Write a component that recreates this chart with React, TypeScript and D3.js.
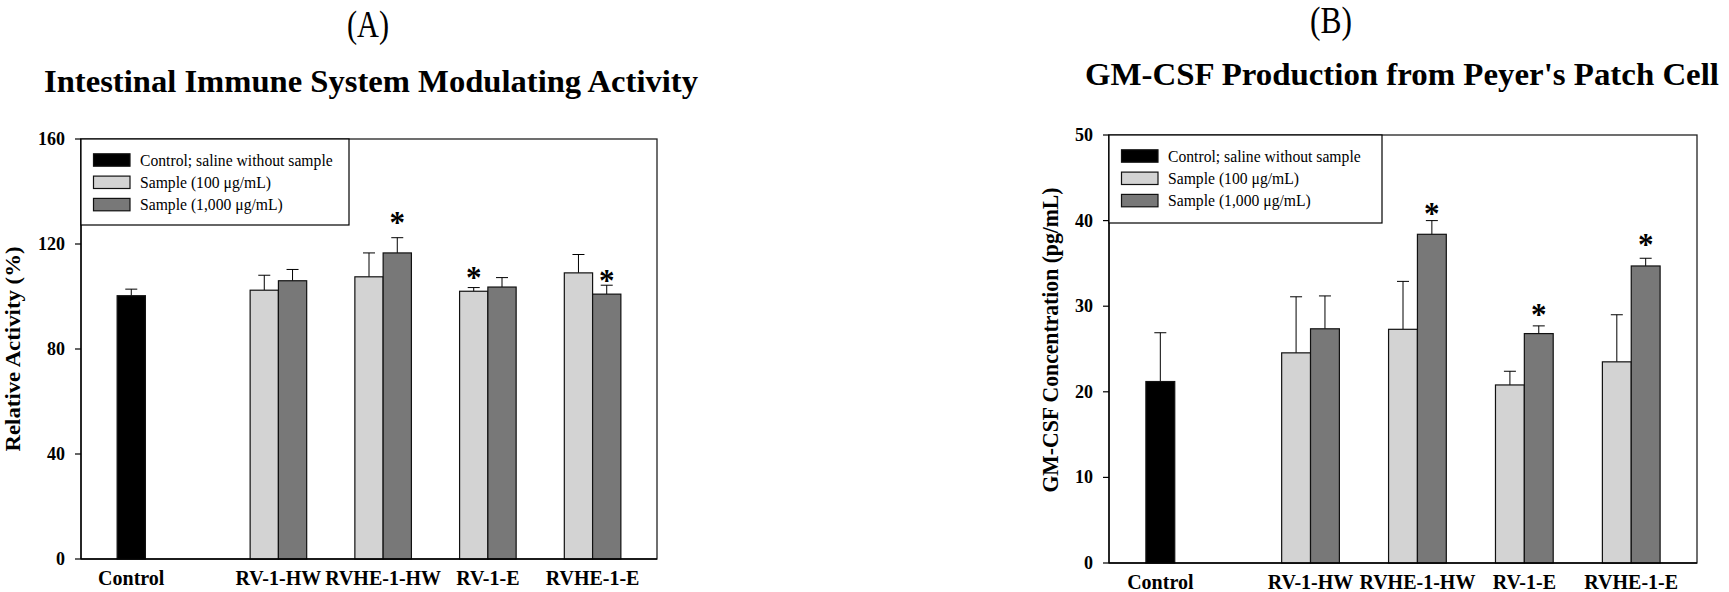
import React from 'react';
import * as d3 from 'd3';

// ---------- shared data ----------
const categories = ['Control', 'RV-1-HW', 'RVHE-1-HW', 'RV-1-E', 'RVHE-1-E'];
const seriesKeys = ['control', 's100', 's1000'];
const legendLabels = ['Control; saline without sample', 'Sample (100 \u03bcg/mL)', 'Sample (1,000 \u03bcg/mL)'];

// ---------- panel A : Intestinal Immune System Modulating Activity ----------
const aControlMean = [100.3, null, null, null, null];
const aControlSD = [2.5, null, null, null, null];
const aS100Mean = [null, 102.4, 107.5, 102.0, 109.0];
const aS100SD = [null, 5.7, 9.1, 1.4, 7.0];
const aS1000Mean = [null, 106.0, 116.6, 103.6, 100.9];
const aS1000SD = [null, 4.3, 5.8, 3.6, 3.4];
const aStarCats = ['RVHE-1-HW', 'RV-1-E', 'RVHE-1-E'];
const aStarSeries = ['s1000', 's100', 's1000'];
const aStarValues = [129.9, 109.1, 107.9];
const aTicks = [0, 40, 80, 120, 160];

// ---------- panel B : GM-CSF Production ----------
const bControlMean = [21.2, null, null, null, null];
const bControlSD = [5.7, null, null, null, null];
const bS100Mean = [null, 24.55, 27.3, 20.8, 23.5];
const bS100SD = [null, 6.55, 5.6, 1.6, 5.5];
const bS1000Mean = [null, 27.36, 38.4, 26.8, 34.7];
const bS1000SD = [null, 3.84, 1.6, 0.9, 0.9];
const bStarCats = ['RVHE-1-HW', 'RV-1-E', 'RVHE-1-E'];
const bStarSeries = ['s1000', 's1000', 's1000'];
const bStarValues = [41.3, 29.6, 37.7];
const bTicks = [0, 10, 20, 30, 40, 50];

const colors: Record<string, string> = { control: '#000000', s100: '#d3d3d3', s1000: '#787878' };
const SERIF = '"Liberation Serif", "Times New Roman", serif';

type PanelCfg = {
  letter: string; title: string; yLabel: string;
  means: (number | null)[][]; sds: (number | null)[][];
  starCats: string[]; starSeries: string[]; starValues: number[];
  ticks: number[]; yMax: number;
  left: number; top: number; width: number; height: number;
  titleX: number; titleY: number; titleLen: number;
  letterX: number; letterY: number; letterLen: number;
  yLabelX: number; yLabelY: number; yLabelLen: number; yLabelFont: number;
  legendW: number; legendH: number; catOffset: number;
};

function Panel({ c }: { c: PanelCfg }) {
  const x0 = d3.scaleBand<string>().domain(categories).range([0, c.width]).paddingInner(0).paddingOuter(0.25);
  const x1 = d3.scaleBand<string>().domain(seriesKeys).range([0, x0.bandwidth()]).paddingInner(0).paddingOuter(0.352);
  const y = d3.scaleLinear().domain([0, c.yMax]).range([c.height, 0]);
  const bw = x1.bandwidth();

  const bars: any[] = [];
  categories.forEach((cat, ci) => {
    seriesKeys.forEach((s, si) => {
      const m = c.means[si][ci];
      if (m == null) return;
      const sd = c.sds[si][ci] as number;
      const cx = (x0(cat) as number) + (x1(s) as number) + bw / 2;
      bars.push({ cat, s, m, sd, cx });
    });
  });
  const labelPos = categories.map((cat) => {
    const bs = bars.filter((b) => b.cat === cat);
    return d3.mean(bs, (b) => b.cx) as number;
  });

  return (
    <g>
      <text x={c.letterX} y={c.letterY} textAnchor="middle" fontFamily={SERIF} fontSize={38}
        textLength={c.letterLen} lengthAdjust="spacingAndGlyphs">{c.letter}</text>
      <text x={c.titleX} y={c.titleY} textAnchor="middle" fontFamily={SERIF} fontSize={32.5} fontWeight="bold"
        textLength={c.titleLen} lengthAdjust="spacingAndGlyphs">{c.title}</text>
      <text transform={`translate(${c.yLabelX},${c.yLabelY}) rotate(-90)`} textAnchor="middle" fontFamily={SERIF}
        fontSize={c.yLabelFont} fontWeight="bold" textLength={c.yLabelLen} lengthAdjust="spacingAndGlyphs">{c.yLabel}</text>
      <g transform={`translate(${c.left},${c.top})`}>
        <rect x={0} y={0} width={c.width} height={c.height} fill="#fff" stroke="#222" strokeWidth={1.3} />
        {bars.map((b, i) => (
          <g key={i}>
            <line x1={b.cx} x2={b.cx} y1={y(b.m)} y2={y(b.m + b.sd)} stroke="#000" strokeWidth={1} />
            <line x1={b.cx - 6} x2={b.cx + 6} y1={y(b.m + b.sd)} y2={y(b.m + b.sd)} stroke="#000" strokeWidth={1} />
            <rect x={b.cx - bw / 2} y={y(b.m)} width={bw} height={c.height - y(b.m)} fill={colors[b.s]}
              stroke="#111" strokeWidth={1.2} />
          </g>
        ))}
        {c.starCats.map((cat, i) => {
          const cx = (x0(cat) as number) + (x1(c.starSeries[i]) as number) + bw / 2;
          return (
            <text key={i} x={cx} y={y(c.starValues[i]) + 15} textAnchor="middle" fontFamily={SERIF}
              fontSize={31} fontWeight="bold">*</text>
          );
        })}
        <line x1={0} x2={0} y1={0} y2={c.height} stroke="#000" strokeWidth={1.3} />
        <line x1={0} x2={c.width} y1={c.height} y2={c.height} stroke="#000" strokeWidth={1.3} />
        {c.ticks.map((t) => (
          <g key={t}>
            <line x1={-6} x2={0} y1={y(t)} y2={y(t)} stroke="#000" strokeWidth={1.2} />
            <text x={-16} y={y(t) + 6} textAnchor="end" fontFamily={SERIF} fontSize={18} fontWeight="bold">{t}</text>
          </g>
        ))}
        {categories.map((cat, i) => (
          <text key={cat} x={labelPos[i]} y={c.height + c.catOffset} textAnchor="middle" fontFamily={SERIF}
            fontSize={20} fontWeight="bold">{cat}</text>
        ))}
        <rect x={0} y={0} width={c.legendW} height={c.legendH} fill="#fff" stroke="#000" strokeWidth={1.2} />
        {seriesKeys.map((s, i) => (
          <g key={s} transform={`translate(0,${21 + i * 22.3})`}>
            <rect x={12.5} y={-6.2} width={36.5} height={12.4} fill={colors[s]} stroke="#111" strokeWidth={1.2} />
            <text x={59} y={5.5} fontFamily={SERIF} fontSize={16.5}
              transform="translate(59,0) scale(0.95,1) translate(-59,0)">{legendLabels[i]}</text>
          </g>
        ))}
      </g>
    </g>
  );
}

const panelA: PanelCfg = {
  letter: '(A)', title: 'Intestinal Immune System Modulating Activity', yLabel: 'Relative Activity (%)',
  means: [aControlMean, aS100Mean, aS1000Mean], sds: [aControlSD, aS100SD, aS1000SD],
  starCats: aStarCats, starSeries: aStarSeries, starValues: aStarValues, ticks: aTicks, yMax: 160,
  left: 81, top: 139, width: 576, height: 420,
  titleX: 371, titleY: 92, titleLen: 654, letterX: 368, letterY: 37, letterLen: 42,
  yLabelX: 19.5, yLabelY: 349, yLabelLen: 205, yLabelFont: 22, legendW: 268, legendH: 86, catOffset: 26,
};

const panelB: PanelCfg = {
  letter: '(B)', title: "GM-CSF Production from Peyer's Patch Cell", yLabel: 'GM-CSF Concentration (pg/mL)',
  means: [bControlMean, bS100Mean, bS1000Mean], sds: [bControlSD, bS100SD, bS1000SD],
  starCats: bStarCats, starSeries: bStarSeries, starValues: bStarValues, ticks: bTicks, yMax: 50,
  left: 1109, top: 135, width: 588, height: 428,
  titleX: 1402, titleY: 85, titleLen: 634, letterX: 1331, letterY: 33, letterLen: 42,
  yLabelX: 1058, yLabelY: 340, yLabelLen: 305, yLabelFont: 23, legendW: 273, legendH: 88, catOffset: 26,
};

export default function App() {
  return (
    <div style={{ position: 'absolute', left: 0, top: 0 }}>
      <svg width={1729} height={592} style={{ display: 'block', background: '#fff' }}>
        <Panel c={panelA} />
        <Panel c={panelB} />
      </svg>
    </div>
  );
}
